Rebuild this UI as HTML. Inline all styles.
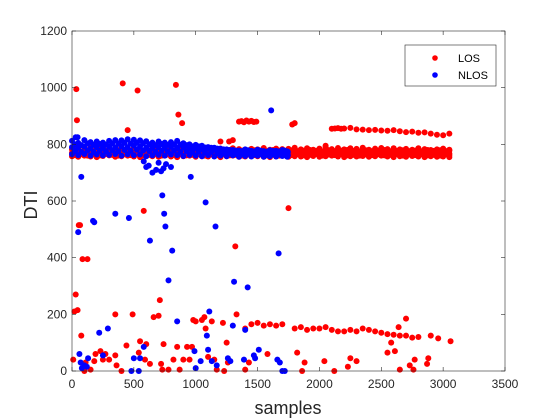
<!DOCTYPE html>
<html><head><meta charset="utf-8"><style>
body{margin:0;background:#fff;}
svg{display:block;font-family:"Liberation Sans",sans-serif;}
</style></head><body>
<svg id="chart" width="560" height="420">
<rect x="0" y="0" width="560" height="420" fill="#fff"/>
<rect x="72" y="31" width="433" height="340" fill="#fff"/>
<g id="marks"></g>
<rect x="72" y="31" width="433" height="340" fill="none" stroke="#262626" stroke-width="0.6"/>
<g id="ticks" font-size="12" fill="#262626"></g>
<text x="288" y="414" text-anchor="middle" font-size="18" fill="#262626">samples</text>
<text transform="translate(37,205) rotate(-90)" text-anchor="middle" font-size="18" fill="#262626">DTI</text>
<g>
<rect x="405" y="45" width="91" height="41" fill="#fff" stroke="#262626" stroke-width="0.6"/>
<circle cx="435" cy="58" r="2.8" fill="#ff0000"/>
<text x="458" y="62" font-size="11" fill="#000">LOS</text>
<circle cx="435" cy="75" r="2.8" fill="#0000ff"/>
<text x="458" y="79" font-size="11" fill="#000">NLOS</text>
</g>
</svg>
<script>
const xTicks=[0,500,1000,1500,2000,2500,3000,3500];
const yTicks=[0,200,400,600,800,1000,1200];
const bandX=[0,50,100,150,200,250,300,350,400,450,500,550,600,650,700,750,800,850,900,950,1000,1050,1100,1150,1200,1250,1300,1350,1400,1450,1500,1550,1600,1650,1700,1750,1800,1850,1900,1950,2000,2050,2100,2150,2200,2250,2300,2350,2400,2450,2500,2550,2600,2650,2700,2750,2800,2850,2900,2950,3000,3050];
const bandX2=[25,75,125,175,225,275,325,375,425,475,525,575,625,675,725,775,825,875,925,975,1025,1075,1125,1175,1225,1275,1325,1375,1425,1475,1525,1575,1625,1675,1725,1775,1825,1875,1925,1975,2025,2075,2125,2175,2225,2275,2325,2375,2425,2475,2525,2575,2625,2675,2725,2775,2825,2875,2925,2975,3025,3050];
const losRowA=[758,756,760,757,755,759,761,756,758,760,757,755,759,758,756,760,757,755,758,760,756,758,757,759,755,758,760,756,757,759,758,756,755,757,760,756,758,757,755,759,756,758,760,757,755,758,757,759,756,758,760,757,755,758,756,759,757,755,758,756,757,755];
const losRowB=[782,786,780,788,784,790,781,785,788,783,786,780,784,789,782,785,781,787,783,786,780,784,788,782,785,781,786,783,780,784,782,787,781,785,783,784,788,782,786,781,785,790,783,787,782,786,784,788,781,785,787,783,786,782,784,781,786,783,780,782,785,781];
const losRowC=[770,768,772,769,771,767,770,773,768,771,769,772,770,767,771,769,772,768,770,771,769,767,772,770,768,771,769,770,767,771,768,770,769,771,768,770,772,769,771,768,770,773,769,771,768,770,772,769,771,768,770,772,769,771,768,770,767,769,771,768,770,767];
const losRowD=[762,765,760,764,761,766,763,760,765,762,764,761,763,766,760,764,762,765,761,763,766,760,764,762,765,761,763,760,764,762,765,761,763,760,764,762,765,761,763,766,760,764,762,765,761,763,760,764,762,765,761,763,766,760,764,762,765,761,763,760,764,762];
const losRowE=[778,775,779,776,780,777,775,779,776,778,780,775,777,779,776,778,775,780,777,779,776,778,775,779,777,780,776,778,775,779,777,776,780,778,775,779,776,778,780,777,775,779,776,778,780,777,775,779,776,778,780,775,777,779,776,778,775,780,777,779,776,778];
const upperX=[2100,2125,2150,2175,2200,2250,2300,2350,2400,2450,2500,2550,2600,2650,2700,2750,2800,2850,2900,2950,3000,3050];
const upperY=[855,856,857,855,856,858,853,852,850,851,849,848,850,846,843,845,841,842,838,834,832,838];
const humpX=[1350,1370,1390,1410,1430,1450,1470,1490];
const humpY=[880,882,878,884,880,883,879,880];
const lowX=[1400,1450,1500,1550,1600,1650,1700,1800,1850,1900,1950,2000,2050,2100,2150,2200,2250,2300,2350,2400,2450,2500,2550,2600,2650,2700,2750,2800];
const lowY=[150,165,170,160,165,160,165,150,155,145,150,150,155,145,140,140,145,140,150,145,140,135,130,128,125,125,118,120];
const losX=[10,20,30,35,40,45,55,65,75,85,100,110,125,150,180,190,230,250,270,300,350,360,350,400,410,440,450,490,530,540,550,580,590,600,630,660,700,710,720,730,740,780,820,840,850,860,870,890,900,930,950,970,980,1000,1050,1070,1080,1100,1130,1150,1170,1200,1220,1230,1250,1260,1270,1300,1320,1330,1400,1430,1580,1750,1780,1800,1820,1860,1880,2040,2050,2120,2230,2250,2300,2550,2580,2610,2640,2650,2700,2730,2760,2770,2870,2880,2900,2960,3060];
const losY=[40,210,270,995,885,215,515,515,125,395,0,30,395,5,35,60,70,40,60,40,55,20,200,0,1015,90,850,200,990,65,105,565,40,95,25,190,195,250,25,5,95,5,40,1010,85,905,5,875,40,85,40,85,180,175,180,190,150,50,175,40,5,810,170,0,100,30,810,815,440,200,5,30,60,575,870,875,65,0,30,35,795,0,15,45,35,65,100,70,155,5,185,20,5,40,25,45,125,115,105];
const nBandX=[0,50,100,150,200,250,300,350,400,450,500,550,600,650,700,750,800,850,900,950,1000,1050,1100,1150,1200,1250,1300,1350,1400,1450,1500,1550,1600,1650,1700,1740];
const nBandX2=[25,75,125,175,225,275,325,375,425,475,525,575,625,675,725,775,825,875,925,975,1025,1075,1125,1175,1225,1275,1325,1375,1425,1475,1525,1575,1625,1675,1720,1745];
const nlosRowA=[765,762,766,760,764,761,763,766,760,765,762,764,758,761,763,760,764,762,759,763,760,758,762,757,760,758,761,756,759,757,760,756,758,757,759,756];
const nlosRowB=[790,788,792,786,790,787,791,789,793,790,795,792,788,786,790,788,791,787,789,785,787,783,785,781,779,777,775,773,776,772,775,771,774,772,776,770];
const nlosRowC=[812,805,815,808,810,806,812,815,814,818,816,814,811,806,810,806,808,812,804,800,798,795,790,788,785,782,780,778,782,777,781,776,779,777,780,775];
const nlosRowD=[776,774,778,773,777,775,779,776,780,777,781,778,776,774,777,775,778,774,776,773,774,771,773,769,768,767,766,765,767,764,766,763,765,764,766,762];
const nlosRowE=[800,797,803,798,801,799,803,802,805,803,806,804,800,797,801,798,800,799,797,793,793,789,788,785,782,780,778,776,779,775,778,774,777,775,778,773];
const nlosX=[20,30,45,60,50,75,70,80,100,120,130,170,180,220,250,290,350,460,480,500,540,550,580,630,730,745,755,780,810,850,960,990,1000,1040,1080,1090,1100,1110,1130,1160,1170,1260,1280,1300,1310,1390,1400,1420,1470,1480,1510,1610,1660,1670,1680,1700,1720,580,600,620,650,680,700,720,740,760,800];
const nlosY=[780,825,825,60,490,685,30,10,20,15,45,530,525,135,55,150,555,540,0,45,0,45,85,460,620,555,510,320,425,175,685,70,10,35,595,125,75,210,35,510,20,45,35,160,315,40,145,295,55,45,75,920,40,415,30,0,0,740,720,725,700,710,735,705,715,730,720];

const X=v=>72+v/3500*433;
const Y=v=>371-v/1200*340;
const NS="http://www.w3.org/2000/svg";
const marks=document.getElementById('marks');
const ticks=document.getElementById('ticks');
function dot(x,y,c,name){
  const el=document.createElementNS(NS,'circle');
  el.setAttribute('cx',X(x));el.setAttribute('cy',Y(y));el.setAttribute('r',3);el.setAttribute('fill',c);
  
  
  marks.appendChild(el);
}
const R='#ff0000',B='#0000ff';
bandX.forEach((x,i)=>{dot(x,losRowA[i],R,'los-point');dot(x,losRowB[i],R,'los-point');dot(x,losRowC[i],R,'los-point');});
bandX2.forEach((x,i)=>{dot(x,losRowD[i],R,'los-point');dot(x,losRowE[i],R,'los-point');});
upperX.forEach((x,i)=>dot(x,upperY[i],R,'los-point'));
humpX.forEach((x,i)=>dot(x,humpY[i],R,'los-point'));
lowX.forEach((x,i)=>dot(x,lowY[i],R,'los-point'));
losX.forEach((x,i)=>dot(x,losY[i],R,'los-point'));
nBandX.forEach((x,i)=>{dot(x,nlosRowA[i],B,'nlos-point');dot(x,nlosRowB[i],B,'nlos-point');dot(x,nlosRowC[i],B,'nlos-point');});
nBandX2.forEach((x,i)=>{dot(x,nlosRowD[i],B,'nlos-point');dot(x,nlosRowE[i],B,'nlos-point');});
nlosX.forEach((x,i)=>dot(x,nlosY[i],B,'nlos-point'));

xTicks.forEach(t=>{
  const l=document.createElementNS(NS,'line');
  l.setAttribute('x1',X(t));l.setAttribute('x2',X(t));l.setAttribute('y1',371);l.setAttribute('y2',367);l.setAttribute('stroke','#262626');l.setAttribute('stroke-width','0.6');
  
  
  ticks.appendChild(l);
  const l2=l.cloneNode();l2.setAttribute('y1',31);l2.setAttribute('y2',35);ticks.appendChild(l2);
  const tx=document.createElementNS(NS,'text');
  tx.setAttribute('x',X(t));tx.setAttribute('y',388);tx.setAttribute('text-anchor','middle');tx.textContent=t;
  
  
  ticks.appendChild(tx);
});
yTicks.forEach(t=>{
  const l=document.createElementNS(NS,'line');
  l.setAttribute('x1',72);l.setAttribute('x2',76);l.setAttribute('y1',Y(t));l.setAttribute('y2',Y(t));l.setAttribute('stroke','#262626');l.setAttribute('stroke-width','0.6');
  
  
  ticks.appendChild(l);
  const l2=l.cloneNode();l2.setAttribute('x1',505);l2.setAttribute('x2',501);ticks.appendChild(l2);
  const tx=document.createElementNS(NS,'text');
  tx.setAttribute('x',67);tx.setAttribute('y',Y(t)+4);tx.setAttribute('text-anchor','end');tx.textContent=t;
  
  
  ticks.appendChild(tx);
});
</script>
</body></html>
